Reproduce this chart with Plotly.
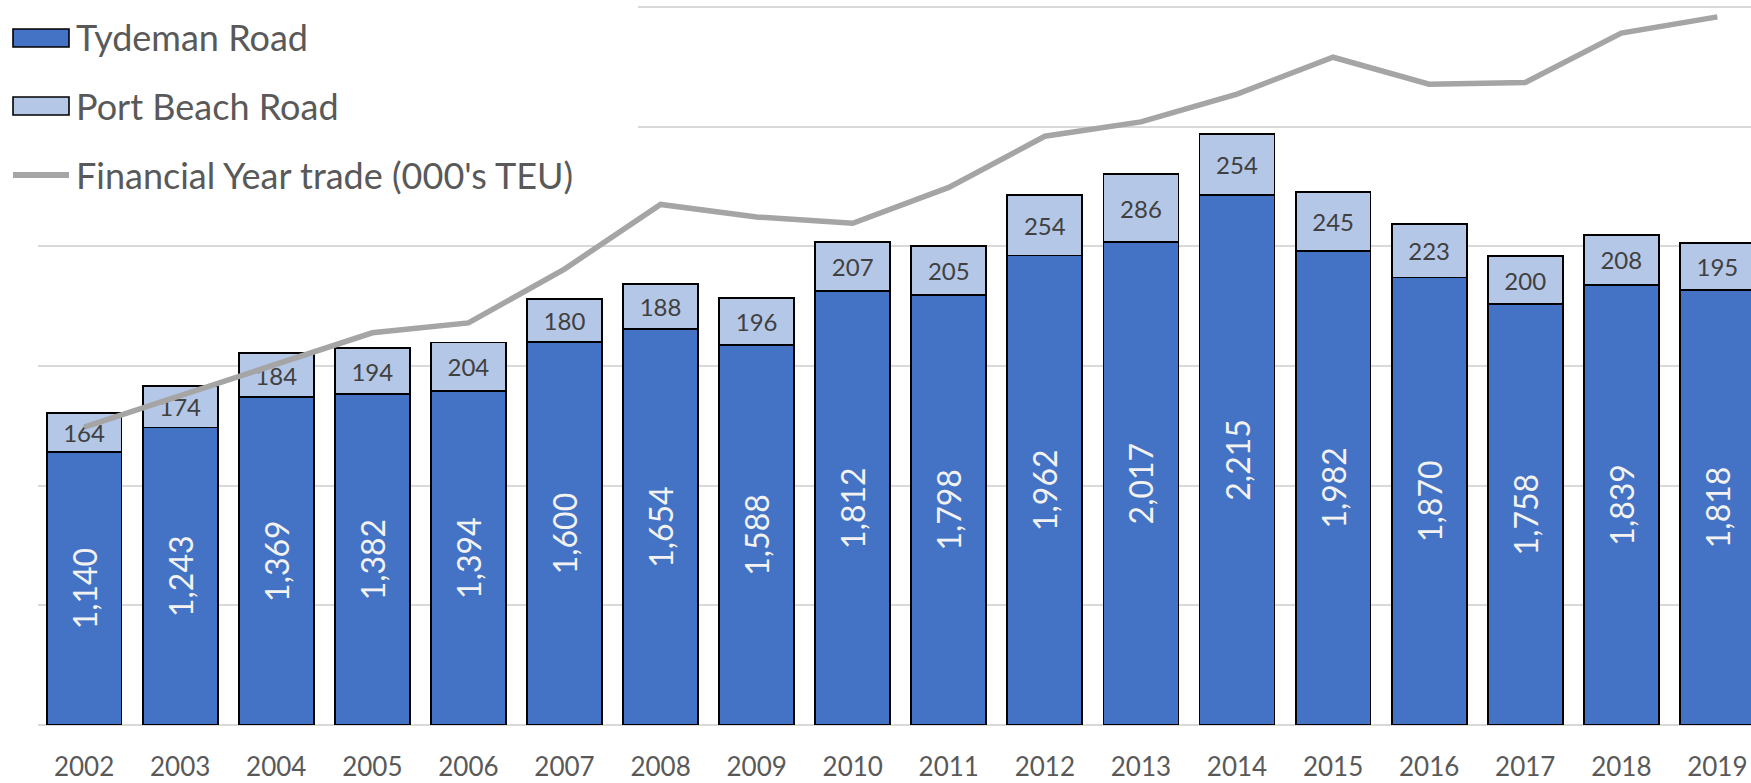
import plotly.graph_objects as go

years = ["2002", "2003", "2004", "2005", "2006", "2007", "2008", "2009", "2010",
         "2011", "2012", "2013", "2014", "2015", "2016", "2017", "2018", "2019"]
tydeman = [1140, 1243, 1369, 1382, 1394, 1600, 1654, 1588, 1812,
           1798, 1962, 2017, 2215, 1982, 1870, 1758, 1839, 1818]
port_beach = [164, 174, 184, 194, 204, 180, 188, 196, 207,
              205, 254, 286, 254, 245, 223, 200, 208, 195]
trade_teu = [332, 367, 401, 437, 448, 508, 580, 566, 559,
             599, 656, 672, 703, 744, 714, 716, 771, 789]

W, H = 1751, 783
ML, MR, MT, MB = 38, 0, 4, 58
PW = W - ML - MR
PH = H - MT - MB
BASE = H - MB            # pixel row of the zero line
TOP_GRID = 7             # pixel row of the 3000 gridline
Y_TOP = 3000 * PH / (BASE - TOP_GRID)

def px_x(px):
    return (px - ML) / PW

def px_y(py):
    return (BASE - py) / PH

FONT = "Lato"
TXT = "#595959"
DARK = "#4472C4"
LIGHT = "#B4C7E7"
GREY = "#A5A5A5"

fig = go.Figure()
fig.add_trace(go.Bar(
    x=years, y=tydeman, name="Tydeman Road",
    marker=dict(color=DARK, line=dict(color="black", width=1.8)),
    text=[f"{v:,}" for v in tydeman], textposition="inside",
    insidetextanchor="middle", textangle=-90,
    textfont=dict(family=FONT, size=32, color="#F2F2F2"),
    constraintext="none", showlegend=False,
))
fig.add_trace(go.Bar(
    x=years, y=port_beach, name="Port Beach Road",
    marker=dict(color=LIGHT, line=dict(color="black", width=1.8)),
    text=[f"{v:,}" for v in port_beach], textposition="inside",
    insidetextanchor="middle", textangle=0,
    textfont=dict(family=FONT, size=24, color="#404040"),
    constraintext="none", showlegend=False,
))
fig.add_trace(go.Scatter(
    x=years, y=trade_teu, name="Financial Year trade (000's TEU)",
    mode="lines", line=dict(color=GREY, width=5.5), yaxis="y2",
    showlegend=False,
))

shapes = [
    # white legend box hiding the gridlines behind the legend
    dict(type="rect", xref="paper", yref="paper",
         x0=px_x(-2), x1=px_x(638), y0=px_y(209), y1=px_y(-5),
         fillcolor="white", line=dict(width=0), layer="above"),
    dict(type="rect", xref="paper", yref="paper",
         x0=px_x(13), x1=px_x(69), y0=px_y(47), y1=px_y(29),
         fillcolor=DARK, line=dict(color="black", width=1.6), layer="above"),
    dict(type="rect", xref="paper", yref="paper",
         x0=px_x(13), x1=px_x(69), y0=px_y(115), y1=px_y(97),
         fillcolor=LIGHT, line=dict(color="black", width=1.6), layer="above"),
    dict(type="line", xref="paper", yref="paper",
         x0=px_x(13), x1=px_x(69), y0=px_y(175), y1=px_y(175),
         line=dict(color=GREY, width=6), layer="above"),
]
legend_labels = ["Tydeman Road", "Port Beach Road", "Financial Year trade (000's TEU)"]
legend_y = [37, 106, 175]
annotations = [
    dict(text=t, xref="paper", yref="paper", x=px_x(74), y=px_y(yy),
         xanchor="left", yanchor="middle", showarrow=False,
         font=dict(family=FONT, size=36, color=TXT))
    for t, yy in zip(legend_labels, legend_y)
]

fig.update_layout(
    width=W, height=H,
    margin=dict(l=ML, r=MR, t=MT, b=MB, pad=0, autoexpand=False),
    paper_bgcolor="white", plot_bgcolor="white",
    barmode="stack", bargap=0.22,
    showlegend=False,
    shapes=shapes, annotations=annotations,
    font=dict(family=FONT, color=TXT),
    xaxis=dict(type="category", range=[-0.48, 17.35], showgrid=False,
               showline=False, zeroline=False, ticks="", automargin=False,
               tickfont=dict(family=FONT, size=26, color=TXT),
               ticklabelstandoff=24),
    yaxis=dict(range=[0, Y_TOP], dtick=500, tick0=0, showticklabels=False,
               showgrid=True, gridcolor="#D9D9D9", gridwidth=1.5,
               zeroline=True, zerolinecolor="#D9D9D9", zerolinewidth=1.5,
               showline=False, ticks="", automargin=False),
    yaxis2=dict(range=[0, 800 * Y_TOP / 3000], overlaying="y", side="right",
                visible=False, showgrid=False, zeroline=False, automargin=False),
)

fig.write_html("out.html", config={"displayModeBar": False},
               post_script="document.body.style.margin='0';")
